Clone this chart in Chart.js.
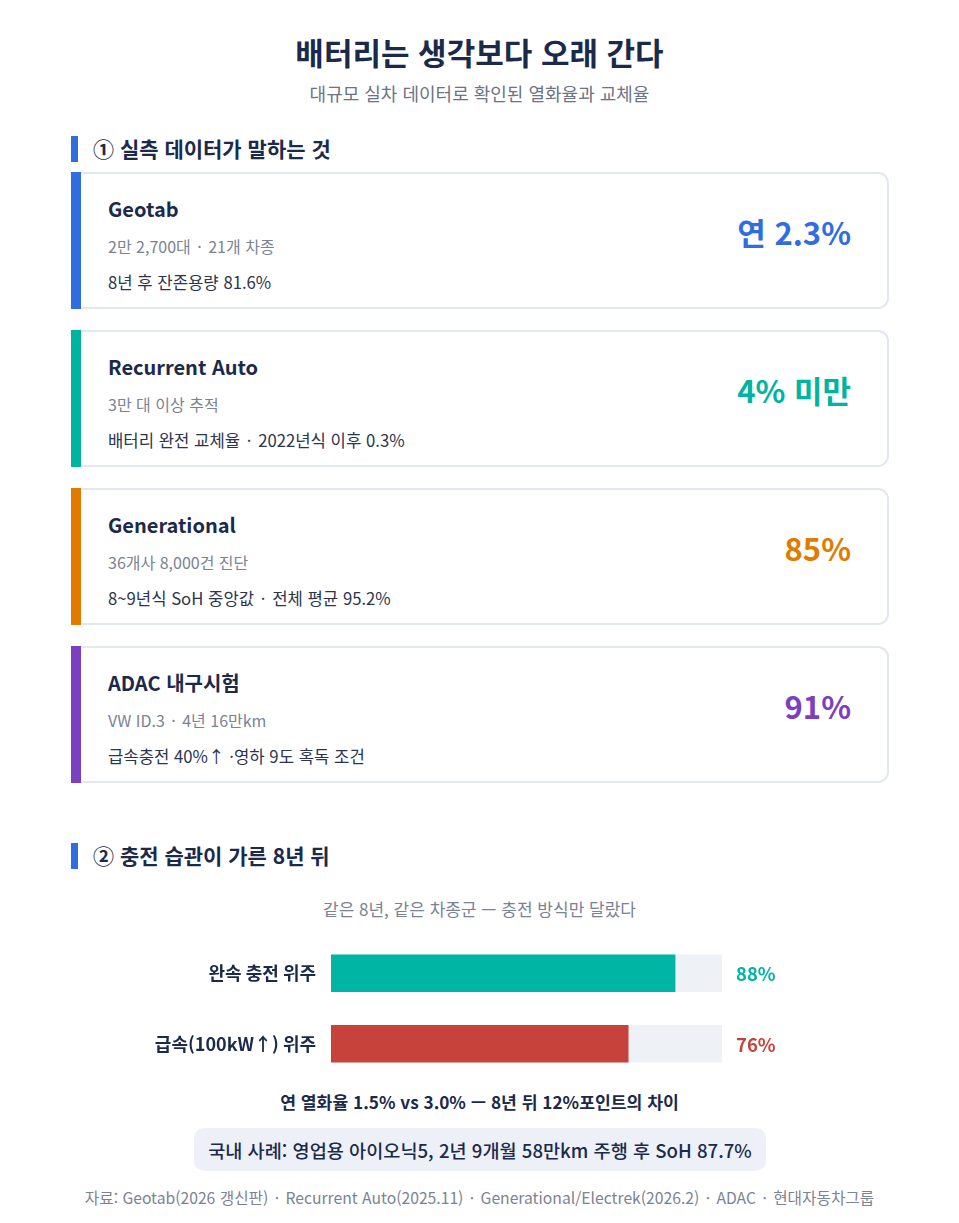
<!DOCTYPE html>
<html lang="ko">
<head>
<meta charset="utf-8">
<script src="https://cdn.jsdelivr.net/npm/chart.js@4.4.1/dist/chart.umd.min.js"></script>
<style>
  html, body { margin: 0; padding: 0; background: #fff; }
  body { width: 959px; height: 1223px; position: relative; font-family: "Noto Sans CJK KR", "Noto Sans", sans-serif; color: #1b2a4a; }
  .abs { position: absolute; white-space: nowrap; }
  .center { left: 0; width: 959px; text-align: center; }
  .dot { margin: 0 2px; }
  .secbar { position: absolute; left: 71px; width: 7px; height: 26px; background: #2f6de1; }
  .sectitle { font-size: 21px; font-weight: 700; line-height: 28px; left: 93px; }
  .card { position: absolute; left: 71px; width: 818px; height: 137px; box-sizing: border-box;
          border: 2px solid #e3e8f0; border-left: none; border-radius: 0 11px 11px 0; background: #fff; }
  .card .accent { position: absolute; left: 0; top: -2px; bottom: -2px; width: 10px; }
  .card .name { position: absolute; left: 37px; top: 21px; font-size: 20px; font-weight: 700; line-height: 28px; }
  .card .sample { position: absolute; left: 37px; top: 61px; font-size: 16px; color: #7a8394; line-height: 22px; }
  .card .detail { position: absolute; left: 37px; top: 97px; font-size: 16.7px; color: #2b3550; line-height: 22px; }
  .card .value { position: absolute; right: 36px; top: 38px; font-size: 31px; font-weight: 700; line-height: 40px; }
</style>
</head>
<body>
<div class="abs center" style="top:32px;font-size:31px;font-weight:700;line-height:40px;">배터리는 생각보다 오래 간다</div>
<div class="abs center" style="top:81px;font-size:18px;color:#6b7384;line-height:24px;">대규모 실차 데이터로 확인된 열화율과 교체율</div>

<div class="secbar" style="top:136px;"></div>
<div class="abs sectitle" style="top:134px;">① 실측 데이터가 말하는 것</div>
<div id="cards"></div>

<div class="secbar" style="top:843px;"></div>
<div class="abs sectitle" style="top:841px;">② 충전 습관이 가른 8년 뒤</div>

<div class="abs center" style="top:897px;font-size:17px;color:#7a8394;line-height:24px;">같은 8년, 같은 차종군 — 충전 방식만 달랐다</div>
<div style="position:absolute;left:71px;top:938px;width:818px;height:141px;">
  <canvas id="chargeChart" width="818" height="141"></canvas>
</div>

<div class="abs center" style="top:1090px;font-size:17.2px;font-weight:700;line-height:24px;">연 열화율 1.5% vs 3.0% — 8년 뒤 12%포인트의 차이</div>
<div class="abs" style="left:194px;top:1128px;width:572px;height:43px;background:#edf1f7;border-radius:10px;text-align:center;font-size:18.6px;font-weight:500;line-height:43px;">국내 사례: 영업용 아이오닉5, 2년 9개월 58만km 주행 후 SoH 87.7%</div>
<div id="footer" class="abs center" style="top:1187px;font-size:15.7px;color:#7a8394;line-height:22px;"></div>

<script>
// 카드 데이터
const sources = ['Geotab', 'Recurrent Auto', 'Generational', 'ADAC 내구시험']
const samples = ['2만 2,700대 · 21개 차종', '3만 대 이상 추적', '36개사 8,000건 진단', 'VW ID.3 · 4년 16만km']
const details = ['8년 후 잔존용량 81.6%', '배터리 완전 교체율 · 2022년식 이후 0.3%', '8~9년식 SoH 중앙값 · 전체 평균 95.2%', '급속충전 40%↑ ·영하 9도 혹독 조건']
const headlines = ['연 2.3%', '4% 미만', '85%', '91%']
const cardColors = ['#2f6de1', '#00b4a0', '#e07b00', '#7b3fc1']
const footerText = '자료: Geotab(2026 갱신판) · Recurrent Auto(2025.11) · Generational/Electrek(2026.2) · ADAC · 현대자동차그룹'

// 충전 방식별 8년 후 SoH
const chargeLabels = ['완속 충전 위주', '급속(100kW↑) 위주']
const sohValues = [88, 76]
const trackMax = 100
const barColors = ['#00b5a3', '#c8423c']

// 가운뎃점 앞뒤 간격을 조금 넓힌다
function dots(s) {
    return s.split(' · ').join(' <span class="dot">·</span> ')
}

let html = ''
for (let i = 0; i < sources.length; i++) {
    html += '<div class="card" style="top:' + (172 + i * 158) + 'px">'
        + '<div class="accent" style="background:' + cardColors[i] + '"></div>'
        + '<div class="name">' + sources[i] + '</div>'
        + '<div class="sample">' + dots(samples[i]) + '</div>'
        + '<div class="detail">' + dots(details[i]) + '</div>'
        + '<div class="value" style="color:' + cardColors[i] + '">' + headlines[i] + '</div>'
        + '</div>'
}
document.getElementById('cards').innerHTML = html
document.getElementById('footer').innerHTML = dots(footerText)

const valueLabels = {
    id: 'valueLabels',
    afterDatasetsDraw(chart) {
        const ctx = chart.ctx
        const meta = chart.getDatasetMeta(0)
        ctx.save()
        ctx.font = '700 18.5px "Noto Sans CJK KR"'
        ctx.textBaseline = 'middle'
        ctx.textAlign = 'left'
        meta.data.forEach(function (bar, i) {
            ctx.fillStyle = barColors[i]
            ctx.fillText(sohValues[i] + '%', chart.chartArea.right + 14, bar.y + 1)
        })
        ctx.restore()
    }
}

new Chart(document.getElementById('chargeChart'), {
    type: 'bar',
    data: {
        labels: chargeLabels,
        datasets: [{
            data: sohValues,
            backgroundColor: barColors,
            barThickness: 37,
            order: 0
        }, {
            data: chargeLabels.map(function () { return trackMax }),
            backgroundColor: '#eef2f7',
            barThickness: 37,
            order: 1
        }]
    },
    options: {
        indexAxis: 'y',
        responsive: false,
        animation: false,
        layout: { padding: { right: 167, top: 0, bottom: 0, left: 0 } },
        datasets: { bar: { grouped: false } },
        plugins: { legend: { display: false }, tooltip: { enabled: false } },
        scales: {
            x: { display: false, min: 0, max: trackMax },
            y: {
                grid: { display: false, drawTicks: false },
                border: { display: false },
                ticks: {
                    padding: 15,
                    color: '#1b2a4a',
                    font: { family: '"Noto Sans CJK KR"', size: 18, weight: '600' }
                },
                afterFit(scale) {
                    // 세로축 라벨 여백이 차트 높이를 줄이지 않도록
                    scale.width = 260
                    scale.paddingTop = 0
                    scale.paddingBottom = 0
                }
            }
        }
    },
    plugins: [valueLabels]
})
</script>
</body>
</html>
